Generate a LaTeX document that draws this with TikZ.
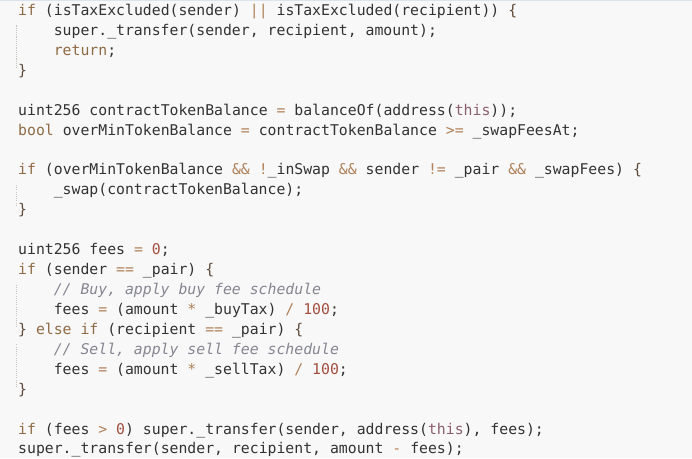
\documentclass[tikz,border=0pt]{standalone}
\usepackage{fontspec}
\setmonofont{DejaVu Sans Mono}
\definecolor{bgc}{HTML}{F8F8F8}
\definecolor{topc}{HTML}{DDE3EE}
\definecolor{txtc}{HTML}{333333}
\definecolor{kwc}{HTML}{8F6B45}
\definecolor{opc}{HTML}{B08058}
\definecolor{brc}{HTML}{5E4B3C}
\definecolor{numc}{HTML}{A34F3F}
\definecolor{thisc}{HTML}{8C5F6E}
\definecolor{cmtc}{HTML}{868692}
\definecolor{guidec}{HTML}{C6C6BE}
\newcommand\ckw[1]{\textcolor{kwc}{#1}}
\newcommand\cop[1]{\textcolor{opc}{#1}}
\newcommand\cbr[1]{\textcolor{brc}{#1}}
\newcommand\cnumb[1]{\textcolor{numc}{#1}}
\newcommand\cthis[1]{\textcolor{thisc}{#1}}
\newcommand\ccmt[1]{\textcolor{cmtc}{\itshape #1}}
\begin{document}
\begin{tikzpicture}[x=1pt,y=-1pt,
  codeline/.style={anchor=base west,inner sep=0pt,text=txtc,font=\ttfamily\fontsize{14.8}{20}\selectfont},
  guide/.style={draw=guidec,line width=1.1pt,dash pattern=on 1.1pt off 1.1pt}]
\fill[bgc] (0,0) rectangle (692,458);
\useasboundingbox (0,0) rectangle (692,458);
\draw[topc,line width=1.2pt] (0,0.6) -- (692,0.6);
\def\bx{18}
\def\ix{53.6}
\def\ls{19.93}
\node[codeline] (l0) at (\bx,{15.5+0*\ls}) {\ckw{if} (isTaxExcluded(sender) \cop{||} isTaxExcluded(recipient)) \cbr{\{}};
\node[codeline] (l1) at (\ix,{15.5+1*\ls}) {super.\_transfer(sender, recipient, amount);};
\node[codeline] (l2) at (\ix,{15.5+2*\ls}) {\ckw{return};};
\node[codeline] (l3) at (\bx,{15.5+3*\ls}) {\cbr{\}}};
\node[codeline] (l5) at (\bx,{15.5+5*\ls}) {uint256 contractTokenBalance \cop{=} balanceOf(address(\cthis{this}));};
\node[codeline] (l6) at (\bx,{15.5+6*\ls}) {\ckw{bool} overMinTokenBalance \cop{=} contractTokenBalance \cop{>=} \_swapFeesAt;};
\node[codeline] (l8) at (\bx,{15.5+8*\ls}) {\ckw{if} (overMinTokenBalance \cop{\&\&} \cop{!}\_inSwap \cop{\&\&} sender \cop{!=} \_pair \cop{\&\&} \_swapFees) \cbr{\{}};
\node[codeline] (l9) at (\ix,{15.5+9*\ls}) {\_swap(contractTokenBalance);};
\node[codeline] (l10) at (\bx,{15.5+10*\ls}) {\cbr{\}}};
\node[codeline] (l12) at (\bx,{15.5+12*\ls}) {uint256 fees \cop{=} \cnumb{0};};
\node[codeline] (l13) at (\bx,{15.5+13*\ls}) {\ckw{if} (sender \cop{==} \_pair) \cbr{\{}};
\node[codeline] (l14) at (\ix,{15.5+14*\ls}) {\ccmt{// Buy, apply buy fee schedule}};
\node[codeline] (l15) at (\ix,{15.5+15*\ls}) {fees \cop{=} (amount \cop{*} \_buyTax) \cop{/} \cnumb{100};};
\node[codeline] (l16) at (\bx,{15.5+16*\ls}) {\cbr{\}} \ckw{else} \ckw{if} (recipient \cop{==} \_pair) \cbr{\{}};
\node[codeline] (l17) at (\ix,{15.5+17*\ls}) {\ccmt{// Sell, apply sell fee schedule}};
\node[codeline] (l18) at (\ix,{15.5+18*\ls}) {fees \cop{=} (amount \cop{*} \_sellTax) \cop{/} \cnumb{100};};
\node[codeline] (l19) at (\bx,{15.5+19*\ls}) {\cbr{\}}};
\node[codeline] (l21) at (\bx,{15.5+21*\ls}) {\ckw{if} (fees \cop{>} \cnumb{0}) super.\_transfer(sender, address(\cthis{this}), fees);};
\node[codeline] (l22) at (\bx,{15.5+22*\ls}) {super.\_transfer(sender, recipient, amount \cop{-} fees);};
\coordinate (g1a) at (16.5,{15.5+0.5*\ls});
\coordinate (g1b) at (16.5,{15.5+2.6*\ls});
\coordinate (g2a) at (16.5,{15.5+8.5*\ls});
\coordinate (g2b) at (16.5,{15.5+9.6*\ls});
\coordinate (g3a) at (16.5,{15.5+13.5*\ls});
\coordinate (g3b) at (16.5,{15.5+15.6*\ls});
\coordinate (g4a) at (16.5,{15.5+16.5*\ls});
\coordinate (g4b) at (16.5,{15.5+18.6*\ls});
\draw[guide] (g1a) -- (g1b);
\draw[guide] (g2a) -- (g2b);
\draw[guide] (g3a) -- (g3b);
\draw[guide] (g4a) -- (g4b);
\end{tikzpicture}
\end{document}
